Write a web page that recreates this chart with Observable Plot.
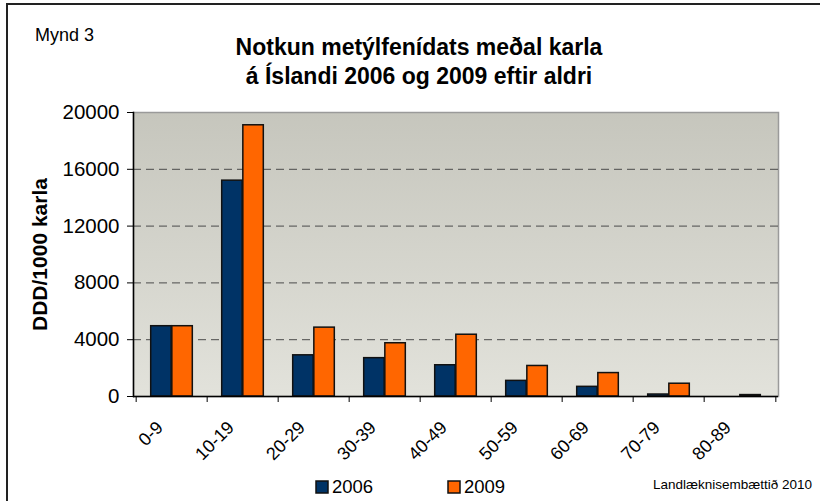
<!DOCTYPE html>
<html>
<head>
<meta charset="utf-8">
<script src="https://cdn.jsdelivr.net/npm/d3@7"></script>
<script src="https://cdn.jsdelivr.net/npm/@observablehq/plot@0.6"></script>
<style>
  html, body { margin: 0; padding: 0; background: #fff; }
  #chart { width: 820px; height: 501px; }
  svg { font-family: "Liberation Sans", Arial, sans-serif; }
</style>
</head>
<body>
<div id="chart"></div>
<script>
const ages = ["0-9", "10-19", "20-29", "30-39", "40-49", "50-59", "60-69", "70-79", "80-89"];
const years = ["2006", "2009"];
const values2006 = [4950, 15200, 2900, 2700, 2200, 1100, 680, 140, 0];
const values2009 = [4950, 19100, 4850, 3750, 4350, 2150, 1650, 900, 100];
const yTicks = [0, 4000, 8000, 12000, 16000, 20000];
const gridTicks = [4000, 8000, 12000, 16000];
const colors = ["#003366", "#ff6600"];
const titleLines = ["Notkun metýlfenídats meðal karla", "á Íslandi 2006 og 2009 eftir aldri"];
const yLabel = "DDD/1000 karla";
const figLabel = "Mynd 3";
const sourceLabel = "Landlæknisembættið 2010";

const data2006 = ages.map((a, i) => ({age: a, value: values2006[i]}));
const data2009 = ages.map((a, i) => ({age: a, value: values2009[i]}));

const W = 820, H = 501;
const mL = 133, mR = 42, mT = 112, mB = 105;
const step = (W - mL - mR) / ages.length;
const half = step / 2;
const outer = step * 0.205;

const font = "Liberation Sans, Arial, sans-serif";

const plot = Plot.plot({
  width: W,
  height: H,
  marginLeft: mL,
  marginRight: mR,
  marginTop: mT,
  marginBottom: mB,
  style: {fontFamily: font, background: "transparent", overflow: "visible"},
  x: {domain: ages, padding: 0, axis: null},
  y: {domain: [0, 20000], axis: null},
  marks: [
    Plot.frame({fill: "url(#bg)", stroke: "#9a9a9a", strokeWidth: 1.5}),
    Plot.ruleY(gridTicks, {stroke: "#4a4a4a", strokeDasharray: "8,5", strokeWidth: 1}),
    Plot.barY(data2006, {x: "age", y: "value", fill: colors[0], stroke: "#111", strokeWidth: 1.5, insetLeft: outer, insetRight: half}),
    Plot.barY(data2009, {x: "age", y: "value", fill: colors[1], stroke: "#111", strokeWidth: 1.5, insetLeft: half, insetRight: outer}),
    Plot.ruleY([0], {stroke: "#000", strokeWidth: 1.5}),
    Plot.frame({anchor: "left", stroke: "#000", strokeWidth: 1.5}),
    Plot.axisY({ticks: yTicks, tickSize: 6, tickPadding: 8, fontSize: 20.5, label: null, tickFormat: d => String(d), stroke: "#000", color: "#000"}),
    Plot.axisX({tickSize: 6, tickFormat: () => "", dx: -half, label: null}),
    Plot.axisX([ages[ages.length - 1]], {tickSize: 6, tickFormat: () => "", dx: half, label: null}),
    Plot.axisX({tickSize: 0, tickPadding: 28, tickRotate: -45, fontSize: 18, label: null, dx: -12}),
    Plot.text([yLabel], {frameAnchor: "left", textAnchor: "middle", dx: -93, rotate: -90, fontWeight: "bold", fontSize: 21, fill: "#000"})
  ]
});

document.getElementById("chart").appendChild(plot);

const svg = d3.select(plot);
const defs = svg.insert("defs", ":first-child");
const grad = defs.append("linearGradient").attr("id", "bg").attr("x1", 0).attr("y1", 0).attr("x2", 0).attr("y2", 1);
grad.append("stop").attr("offset", "0%").attr("stop-color", "#c6c6bd");
grad.append("stop").attr("offset", "100%").attr("stop-color", "#e2e2db");

// outer border (left and top)
svg.append("path").attr("d", `M7,${H} L7,4 L${W},4`).attr("fill", "none").attr("stroke", "#222").attr("stroke-width", 2);

// figure label
svg.append("text").attr("x", 35).attr("y", 41).attr("text-anchor", "start").attr("font-size", 18).attr("fill", "#000").text(figLabel);

// title
titleLines.forEach((t, i) => {
  svg.append("text").attr("x", 419).attr("y", 55 + i * 29).attr("text-anchor", "middle")
    .attr("font-size", 23).attr("font-weight", "bold").attr("fill", "#000").text(t);
});

// legend
const lx = [316, 448];
years.forEach((yr, i) => {
  svg.append("rect").attr("x", lx[i]).attr("y", 481).attr("width", 12).attr("height", 12)
    .attr("fill", colors[i]).attr("stroke", "#111").attr("stroke-width", 1.5);
  svg.append("text").attr("x", lx[i] + 16).attr("y", 493).attr("text-anchor", "start")
    .attr("font-size", 18.5).attr("fill", "#000").text(yr);
});

// source
svg.append("text").attr("x", 812).attr("y", 489).attr("text-anchor", "end").attr("font-size", 13.5).attr("fill", "#000").text(sourceLabel);
</script>
</body>
</html>
